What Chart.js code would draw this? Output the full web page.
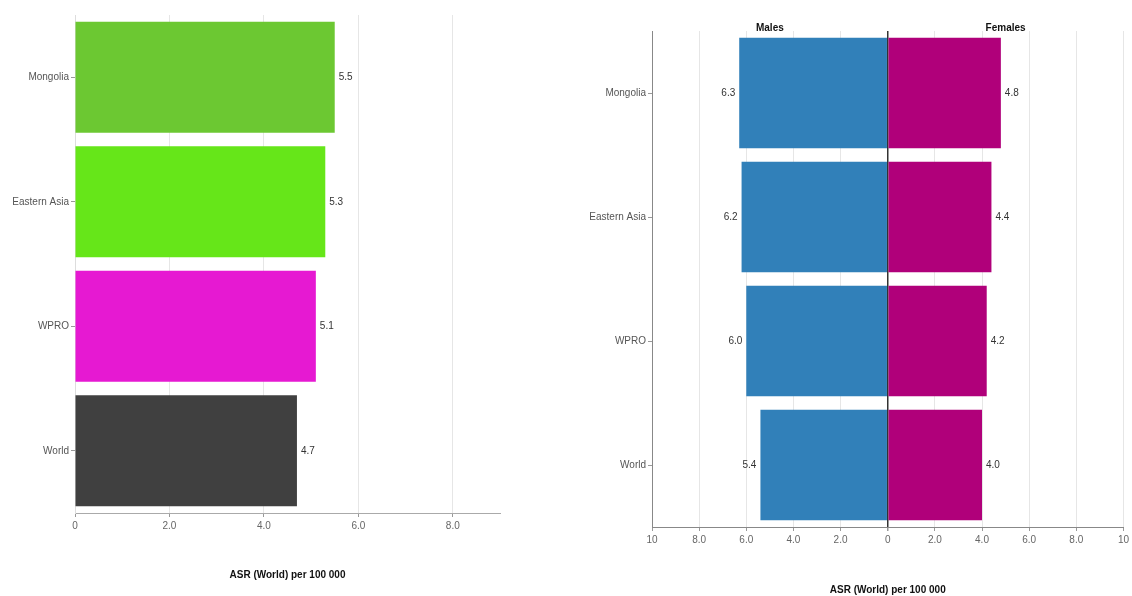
<!DOCTYPE html>
<html>
<head>
<meta charset="utf-8">
<script src="https://cdn.jsdelivr.net/npm/chart.js@4/dist/chart.umd.min.js"></script>
<style>
  body { margin: 0; background: #fff; }
  #left { position: absolute; left: 0; top: 0; }
  #right { position: absolute; left: 560px; top: 0; }
</style>
</head>
<body>
<canvas id="left" width="520" height="596"></canvas>
<canvas id="right" width="572" height="596"></canvas>
<script>
// data
const regions = ['Mongolia', 'Eastern Asia', 'WPRO', 'World'];
const asrBoth = [5.5, 5.3, 5.1, 4.7];
const asrMales = [6.3, 6.2, 6.0, 5.4];
const asrFemales = [4.8, 4.4, 4.2, 4.0];
const leftTicks = [0, 2, 4, 6, 8];
const axisTitle = 'ASR (World) per 100 000';

const barColors = ['#6cc832', '#66e619', '#e619d2', '#404040'];
const maleColor = '#3180b9';
const femaleColor = '#b0007a';
const fontFamily = "'Liberation Sans', Arial, sans-serif";

Chart.defaults.font.family = fontFamily;
Chart.defaults.animation = false;

function fmtTick(v) {
  v = Math.abs(v);
  if (v === 0) return '0';
  if (v === 10) return '10';
  return v.toFixed(1);
}

// draws value labels at bar ends
const valueLabels = {
  id: 'valueLabels',
  afterDatasetsDraw(chart) {
    const ctx = chart.ctx;
    ctx.save();
    ctx.font = '10px ' + fontFamily;
    ctx.fillStyle = '#333';
    ctx.textBaseline = 'middle';
    chart.data.datasets.forEach((ds, i) => {
      chart.getDatasetMeta(i).data.forEach((bar, j) => {
        const v = ds.data[j];
        if (v < 0) {
          ctx.textAlign = 'right';
          ctx.fillText(Math.abs(v).toFixed(1), bar.x - 4, bar.y);
        } else {
          ctx.textAlign = 'left';
          ctx.fillText(v.toFixed(1), bar.x + 4, bar.y);
        }
      });
    });
    ctx.restore();
  }
};

// Males / Females headings over each half
const sideHeaders = {
  id: 'sideHeaders',
  afterDraw(chart) {
    const ctx = chart.ctx;
    const x = chart.scales.x;
    ctx.save();
    ctx.font = 'bold 10px ' + fontFamily;
    ctx.fillStyle = '#111';
    ctx.textAlign = 'center';
    ctx.textBaseline = 'middle';
    ctx.fillText('Males', x.getPixelForValue(-5), 28);
    ctx.fillText('Females', x.getPixelForValue(5), 28);
    ctx.restore();
  }
};

new Chart(document.getElementById('left'), {
  type: 'bar',
  data: {
    labels: regions,
    datasets: [{
      data: asrBoth,
      backgroundColor: barColors,
      barPercentage: 0.89,
      categoryPercentage: 1
    }]
  },
  options: {
    indexAxis: 'y',
    responsive: false,
    layout: { padding: { top: 15, right: 20, left: 0, bottom: 0 } },
    plugins: { legend: { display: false }, tooltip: { enabled: false } },
    scales: {
      x: {
        min: 0,
        max: 9,
        afterBuildTicks: s => { s.ticks = leftTicks.map(v => ({ value: v })); },
        afterFit: s => { s.height = 83; },
        ticks: { callback: fmtTick, color: '#666', font: { size: 10 }, padding: 3 },
        grid: { color: '#e6e6e6', tickColor: '#999', tickLength: 4 },
        border: { color: '#aaa' },
        title: {
          display: true, text: axisTitle, color: '#111',
          font: { size: 10, weight: 'bold' }, padding: { top: 0, bottom: 15 }
        }
      },
      y: {
        afterFit: s => { s.width = 75; },
        ticks: { color: '#555', font: { size: 10 }, padding: 2 },
        grid: { offset: false, drawOnChartArea: false, tickColor: '#999', tickLength: 4 },
        border: { color: '#ddd' }
      }
    }
  },
  plugins: [valueLabels]
});

new Chart(document.getElementById('right'), {
  type: 'bar',
  data: {
    labels: regions,
    datasets: [{
      label: 'Males',
      data: asrMales.map(v => -v),
      backgroundColor: maleColor,
      barPercentage: 0.89,
      categoryPercentage: 1
    }, {
      label: 'Females',
      data: asrFemales,
      backgroundColor: femaleColor,
      barPercentage: 0.89,
      categoryPercentage: 1
    }]
  },
  options: {
    indexAxis: 'y',
    responsive: false,
    layout: { padding: { top: 31, right: 8, left: 0, bottom: 0 } },
    plugins: { legend: { display: false }, tooltip: { enabled: false } },
    scales: {
      x: {
        stacked: true,
        min: -10,
        max: 10,
        ticks: { stepSize: 2, callback: fmtTick, color: '#666', font: { size: 10 }, padding: 3 },
        afterFit: s => { s.height = 69; },
        grid: {
          color: c => c.tick && c.tick.value === 0 ? '#333' : '#e6e6e6',
          lineWidth: c => c.tick && c.tick.value === 0 ? 1.5 : 1,
          tickColor: '#999',
          tickLength: 4
        },
        border: { color: '#888' },
        title: {
          display: true, text: axisTitle, color: '#111',
          font: { size: 10, weight: 'bold' }, padding: { top: 0, bottom: 0 }
        }
      },
      y: {
        stacked: true,
        afterFit: s => { s.width = 92; },
        ticks: { color: '#555', font: { size: 10 }, padding: 2 },
        grid: { offset: false, drawOnChartArea: false, tickColor: '#999', tickLength: 4 },
        border: { color: '#888' }
      }
    }
  },
  plugins: [valueLabels, sideHeaders]
});
</script>
</body>
</html>
